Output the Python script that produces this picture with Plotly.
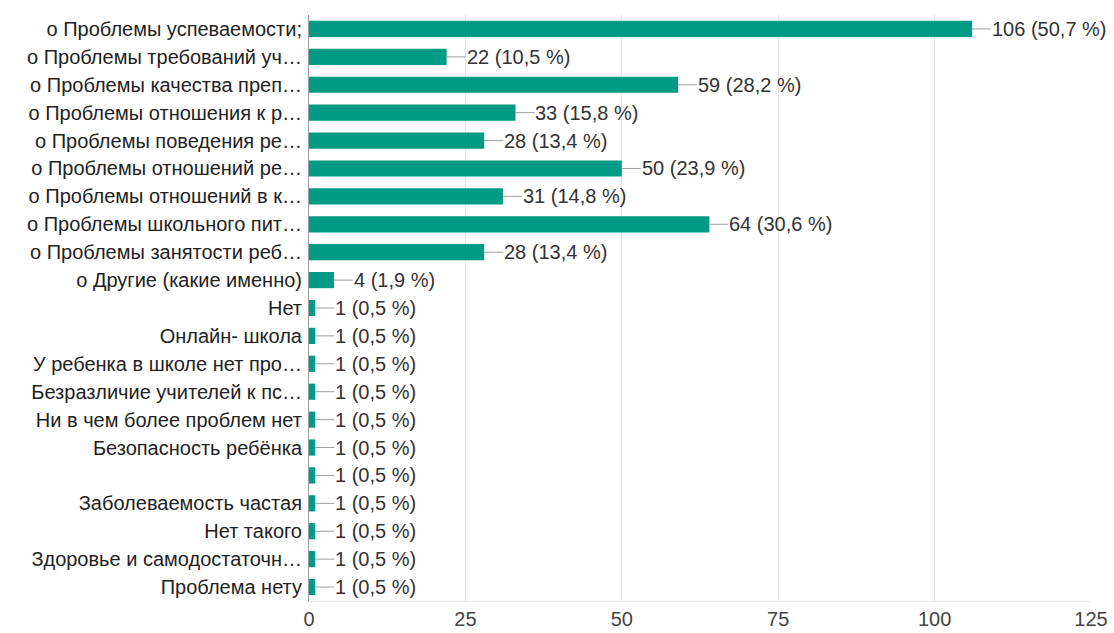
import plotly.graph_objects as go

labels = [
    "о Проблемы успеваемости;",
    "о Проблемы требований уч…",
    "о Проблемы качества преп…",
    "о Проблемы отношения к р…",
    "о Проблемы поведения ре…",
    "о Проблемы отношений ре…",
    "о Проблемы отношений в к…",
    "о Проблемы школьного пит…",
    "о Проблемы занятости реб…",
    "о Другие (какие именно)",
    "Нет",
    "Онлайн- школа",
    "У ребенка в школе нет про…",
    "Безразличие учителей к пс…",
    "Ни в чем более проблем нет",
    "Безопасность ребёнка",
    "",
    "Заболеваемость частая",
    "Нет такого",
    "Здоровье и самодостаточн…",
    "Проблема нету",
]
counts = [106, 22, 59, 33, 28, 50, 31, 64, 28, 4, 1, 1, 1, 1, 1, 1, 1, 1, 1, 1, 1]
percents = ["50,7 %", "10,5 %", "28,2 %", "15,8 %", "13,4 %", "23,9 %", "14,8 %",
            "30,6 %", "13,4 %", "1,9 %", "0,5 %", "0,5 %", "0,5 %", "0,5 %", "0,5 %",
            "0,5 %", "0,5 %", "0,5 %", "0,5 %", "0,5 %", "0,5 %"]
x_ticks = [0, 25, 50, 75, 100, 125]

FONT = "Liberation Sans, Arial, sans-serif"
FS = 20
pos = list(range(len(labels)))

fig = go.Figure(go.Bar(
    x=counts, y=pos, orientation="h",
    marker=dict(color="#009a85", line=dict(width=0)),
    hoverinfo="skip",
))

for p, c, pc in zip(pos, counts, percents):
    fig.add_annotation(
        x=c, y=p, text=f"{c} ({pc})",
        showarrow=True, arrowhead=0, arrowwidth=1, arrowcolor="#9e9e9e",
        ax=19, ay=0, xanchor="left", yanchor="middle",
        font=dict(family=FONT, size=FS, color="#333333"),
        borderpad=0,
    )

fig.update_layout(
    width=1114, height=633,
    margin=dict(l=309, r=23, t=15, b=32),
    paper_bgcolor="white", plot_bgcolor="white",
    bargap=0.42,
    showlegend=False,
    font=dict(family=FONT, size=FS, color="#333333"),
)
fig.update_xaxes(
    range=[0, 125], tickvals=x_ticks, showgrid=True, gridcolor="#e6e6e6", gridwidth=1,
    zeroline=False, showline=True, linecolor="#e6e6e6", linewidth=1,
    ticks="", tickfont=dict(family=FONT, size=FS, color="#444444"),
    fixedrange=True, automargin=False,
)
fig.update_yaxes(
    tickvals=pos, ticktext=labels, range=[len(labels) - 0.5, -0.5],
    showgrid=False, zeroline=False, showline=True, linecolor="#9e9e9e", linewidth=1,
    ticks="", ticklabelstandoff=2, tickfont=dict(family=FONT, size=FS, color="#222222"),
    fixedrange=True, automargin=False,
)

fig.write_html(
    "out.html",
    config={"displayModeBar": False, "staticPlot": True},
    post_script="document.body.style.margin='0';document.body.style.overflow='hidden';",
)
